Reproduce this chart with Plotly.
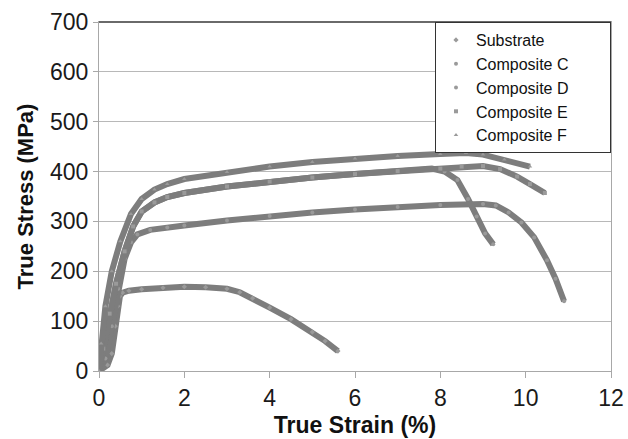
import plotly.graph_objects as go

# ---- data (True strain %, True stress MPa) ----
sub_x = [0, 0.2, 0.3, 0.38, 0.44, 0.49, 0.55, 0.7, 1.0, 1.5, 2.0, 2.5, 3.0, 3.3, 3.6, 4.0, 4.5, 5.0, 5.3, 5.6]
sub_y = [0, 12, 35, 90, 130, 150, 157, 161, 164, 167, 169, 168, 165, 158, 146, 127, 104, 78, 60, 40]

c_x = [0, 0.15, 0.3, 0.45, 0.6, 0.75, 0.9, 1.2, 1.6, 2, 3, 4, 5, 6, 7, 8, 9, 9.3, 9.6, 9.9, 10.2, 10.5, 10.7, 10.9]
c_y = [0, 25, 90, 165, 225, 258, 274, 283, 288, 292, 302, 311, 318, 324, 329, 333, 335, 332, 318, 298, 268, 222, 185, 140]

d_x = [0, 0.1, 0.25, 0.4, 0.6, 0.8, 1.0, 1.3, 1.6, 2, 3, 4, 5, 6, 7, 7.8, 8.1, 8.4, 8.65, 8.85, 9.05, 9.24]
d_y = [0, 45, 115, 175, 240, 290, 320, 338, 349, 357, 370, 380, 388, 395, 401, 406, 400, 383, 345, 310, 276, 254]

e_x = [0, 0.1, 0.25, 0.4, 0.6, 0.8, 1.0, 1.3, 1.6, 2, 3, 4, 5, 6, 7, 8, 8.5, 9, 9.4, 9.8, 10.1, 10.45]
e_y = [0, 45, 115, 175, 240, 290, 320, 338, 349, 357, 370, 380, 388, 395, 401, 406, 410, 411, 405, 390, 375, 357]

f_x = [0, 0.05, 0.15, 0.3, 0.5, 0.75, 1.0, 1.3, 1.6, 2, 3, 4, 5, 6, 7, 8, 8.6, 9.0, 9.5, 10.1]
f_y = [0, 55, 130, 200, 260, 315, 345, 364, 375, 385, 399, 410, 419, 426, 431, 435, 437, 434, 424, 410]

names = ["Substrate", "Composite C", "Composite D", "Composite E", "Composite F"]
symbols = ["diamond", "circle", "circle", "square", "triangle-up"]
series = [(sub_x, sub_y), (c_x, c_y), (d_x, d_y), (e_x, e_y), (f_x, f_y)]

x_ticks = [0, 2, 4, 6, 8, 10, 12]
y_ticks = [0, 100, 200, 300, 400, 500, 600, 700]

LINE = "#7d7d7d"
PAD = "\u00a0" * 8
fig = go.Figure()
for (xs, ys), nm, sym in zip(series, names, symbols):
    fig.add_trace(go.Scatter(x=xs, y=ys, mode="lines", line=dict(color=LINE, width=6),
                             showlegend=False, legendgroup=nm, hoverinfo="skip"))
    fig.add_trace(go.Scatter(x=xs, y=ys, mode="markers", name=nm + PAD, legendgroup=nm,
                             marker=dict(symbol=sym, size=4, color="#9a9a9a")))

font = "Liberation Sans, Arial, sans-serif"
fig.update_layout(
    width=628, height=439,
    margin=dict(l=99, r=17, t=22, b=68),
    paper_bgcolor="white", plot_bgcolor="white",
    font=dict(family=font, color="#1a1a1a"),
    showlegend=True,
    legend=dict(x=1, y=1, xanchor="right", yanchor="top",
                bgcolor="white", bordercolor="#333333", borderwidth=1,
                font=dict(size=16, family=font, color="#111111"),
                itemsizing="trace", tracegroupgap=0),
)
fig.update_xaxes(range=[0, 12], tickvals=x_ticks, ticktext=[str(v) for v in x_ticks],
                 showgrid=False, zeroline=False, automargin=False,
                 showline=True, linecolor="#a8a8a8", linewidth=1, mirror=True,
                 ticks="outside", ticklen=6, tickcolor="#a8a8a8",
                 tickfont=dict(size=23, family=font, color="#1a1a1a"),
                 title=dict(text="<b>True Strain (%)</b>", font=dict(size=23, family=font, color="#111111"),
                            standoff=7))
fig.update_yaxes(range=[0, 700], tickvals=y_ticks, ticktext=[str(v) for v in y_ticks],
                 showgrid=True, gridcolor="#b8b8b8", gridwidth=1, zeroline=False, automargin=False,
                 showline=True, linecolor="#a8a8a8", linewidth=1, mirror=True,
                 ticks="outside", ticklen=5, tickcolor="#a8a8a8",
                 tickfont=dict(size=23, family=font, color="#1a1a1a"),
                 title=dict(text="<b>True Stress (MPa)</b>", font=dict(size=22, family=font, color="#111111"),
                            standoff=10))
fig.add_shape(type="line", xref="paper", yref="paper", x0=0, x1=1, y0=1, y1=1,
              line=dict(color="#6a6a6a", width=2))
fig.write_html("out.html")
